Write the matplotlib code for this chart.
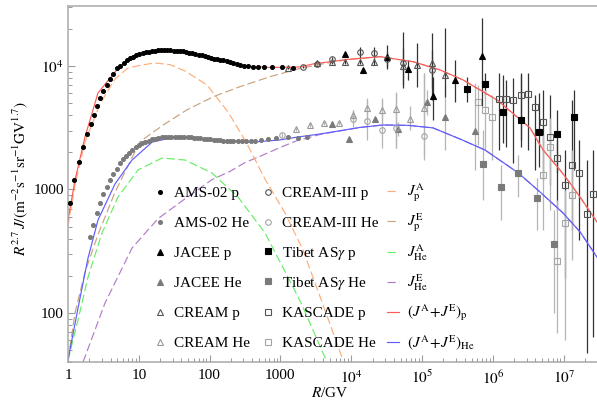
import numpy as np
import matplotlib
matplotlib.use('Agg')
import matplotlib.pyplot as plt
from matplotlib.ticker import FixedLocator, FixedFormatter, LogLocator, NullFormatter
from matplotlib.lines import Line2D
from matplotlib.legend import Legend

plt.rcParams['font.family'] = ['Liberation Serif', 'DejaVu Serif']
plt.rcParams['mathtext.fontset'] = 'stix'

# ---------------- data ----------------
# AMS-02 proton
ams_p_R = [1.067, 1.227, 1.43, 1.613, 1.836, 2.09, 2.33, 2.57, 2.83, 3.15, 3.52, 3.92, 4.36, 4.97,
           5.5, 6.1, 6.8, 7.5, 8.3, 9.2, 10.2, 11.3, 12.5, 13.8, 15.3, 16.9, 18.7, 20.7, 22.9, 25.3,
           28.0, 31.0, 34.3, 38.0, 42.0, 46.5, 51.5, 57, 63, 70, 77, 85, 94, 104, 115, 128, 142, 157,
           174, 193, 214, 240, 270, 310, 354, 409, 481, 589, 762, 1070, 1530]
ams_p_F = [778, 1194, 1660, 2197, 2818, 3390, 4010, 4745, 5535, 6310, 7015, 7850, 8610, 9560,
           10050, 10560, 11150, 11520, 11850, 12170, 12560, 12780, 12930, 13070, 13200, 13320, 13430, 13480, 13460, 13420,
           13380, 13330, 13290, 13240, 13120, 12980, 12850, 12700, 12550, 12370, 12180, 12000, 11830, 11650, 11480, 11320, 11220, 11090,
           10920, 10730, 10520, 10350, 10200, 10060, 9970, 9900, 9840, 9800, 9800, 9800, 9650]

# AMS-02 helium
ams_he_R = [2.05, 2.28, 2.54, 2.83, 3.15, 3.52, 3.92, 4.32, 4.92, 5.42, 5.98, 6.6, 7.3, 8.1, 9.0, 10.0, 11.1,
            12.4, 13.8, 15.3, 17.0, 18.9, 21, 23.3, 25.9, 28.8, 32, 35.6, 39.6, 44, 49, 54, 60, 67, 74, 83,
            92, 102, 114, 127, 141, 157, 175, 195, 217, 250, 290, 330, 380, 440, 525, 660, 880, 1300, 1800, 2400]
ams_he_F = [411, 514, 644, 776, 918, 1047, 1192, 1333, 1463, 1637, 1763, 1880, 1990, 2090, 2190, 2280, 2360,
            2430, 2490, 2540, 2580, 2610, 2640, 2660, 2670, 2680, 2680, 2680, 2670, 2660, 2650, 2640, 2630, 2620, 2600, 2580,
            2560, 2545, 2530, 2515, 2500, 2490, 2480, 2475, 2470, 2470, 2470, 2475, 2480, 2490, 2520, 2560, 2620, 2640, 2620, 2640]

# JACEE
jacee_p_R = [8170, 14800, 32300, 62400, 1.42e5, 2.93e5, 7.11e5]
jacee_p_F = [12400, 9280, 11760, 9370, 5680, 7740, 11990]
jacee_p_lo = [11850, 8900, 9500, 7710, 3650, 5110, 4740]
jacee_p_hi = [13000, 9700, 14800, 11190, 8140, 11190, 24500]

jacee_he_R = [5300, 9310, 21700, 46300, 1.19e5, 2.08e5, 5.6e5]
jacee_he_F = [3400, 2550, 3700, 3070, 5140, 3860, 2990]
jacee_he_lo = [3250, 2440, 3550, 2700, 4010, 2085, 1436]
jacee_he_hi = [3560, 2660, 3860, 3500, 6390, 7020, 7280]

# CREAM
cream_p_R = [1280, 3260, 5300, 8170, 13300, 21200, 54400, 84100, 1.37e5, 2.11e5]
cream_p_F = [9630, 10520, 10720, 10830, 10830, 10830, 10000, 10190, 10520, 8450]
cream_p_lo = [9400, 10200, 10400, 10400, 10300, 10200, 7020, 6760, 5300, 5610]
cream_p_hi = [9900, 10850, 11050, 11300, 11400, 11600, 14000, 15400, 18500, 20300]

cream_he_R = [1660, 2660, 4130, 6790, 10500, 16900, 27000, 43000, 67700, 1.08e5]
cream_he_F = [3070, 3330, 3470, 3470, 4010, 4540, 4400, 4450, 3730, 4540]
cream_he_lo = [2950, 3200, 3330, 3330, 3650, 3650, 3330, 2165, 3030, 1830]
cream_he_hi = [3200, 3470, 3610, 3610, 4400, 5300, 5300, 6040, 4740, 8770]

# CREAM-III
cream3_p_R = [2100, 3260, 5300, 13300, 21200, 31700, 53300, 1.37e5]
cream3_p_F = [9870, 10380, 11330, 12910, 12820, 11330, 10520, 9280]
cream3_p_lo = [9600, 10100, 10900, 11600, 11600, 9815, 6640, 6640]
cream3_p_hi = [10150, 10650, 11800, 14300, 14300, 13000, 18970, 13480]

cream3_he_R = [1040, 10500, 16900, 27000, 43000, 1.07e5]
cream3_he_F = [2760, 3700, 3610, 3050, 3130, 2710]
cream3_he_lo = [2650, 3200, 2510, 2165, 2165, 1730]
cream3_he_hi = [2870, 4400, 5510, 5510, 6200, 8770]

# Tibet AS-gamma
tibet_p_R = [4.32e5, 7.69e5, 1.41e6, 2.48e6, 4.42e6, 8.0e6, 1.40e7]
tibet_p_F = [6470, 7140, 4240, 3650, 2930, 2810, 3880]
tibet_p_lo = [5110, 5820, 2380, 2210, 1520, 1358, 1436]
tibet_p_hi = [8140, 8770, 8450, 8770, 6040, 4400, 6390]

tibet_he_R = [7.19e5, 1.29e6, 2.29e6, 4.14e6, 7.32e6]
tibet_he_F = [1610, 1050, 1365, 851, 361]
tibet_he_lo = [821, 565, 867, 469, 100]
tibet_he_hi = [3030, 1580, 1900, 1236, 681]

# KASCADE
kascade_p_R = [1.22e6, 1.54e6, 1.95e6, 2.48e6, 3.17e6, 3.98e6, 5.07e6, 6.43e6, 8.15e6, 1.05e7, 1.33e7, 1.65e7, 2.12e7, 2.63e7]
kascade_p_F = [5370, 5370, 5300, 5820, 5900, 4620, 3540, 2670, 1790, 1086, 1580, 1358, 632, 919]
kascade_p_lo = [2085, 2210, 1637, 2510, 2085, 1436, 1192, 1086, 681, 191, 469, 389, 47.3, 63.6]
kascade_p_hi = [8770, 7710, 7990, 8450, 8770, 5820, 6390, 5820, 2510, 2085, 5300, 2510, 1730, 2085]

kascade_he_R = [6.12e5, 7.77e5, 9.84e5, 5.17e6, 6.43e6, 8.15e6, 1.05e7, 1.33e7]
kascade_he_F = [5140, 4400, 3880, 1310, 2210, 263, 537, 901]
kascade_he_lo = [2290, 2085, 1730, 469, 681, 68.5, 60.2, 268]
kascade_he_hi = [7020, 6390, 5820, 2760, 3790, 821, 988, 2085]

# model curves
pA_R = [1, 1.256, 1.738, 2.83, 4.61, 7.04, 11.1, 16.9, 27.6, 44.9, 91.9, 182, 326, 606, 1161, 2085, 4266, 7660]
pA_F = [505, 1086, 2420, 4920, 7850, 9630, 10190, 10580, 10250, 9110, 7010, 4240, 2430, 1210, 644, 323, 105, 41.4]

pE_R = [1, 1.256, 1.738, 2.65, 4.61, 10.4, 22.2, 47.5, 113, 269, 713, 1700, 3624, 8730, 25500, 74600,
        1.80e5, 3.79e5, 1.15e6, 3.35e6, 5.12e6, 8.89e6, 1.23e7, 1.82e7, 2.96e7]
pE_F = [41.4, 99.6, 215, 430, 950, 2440, 3330, 4400, 5640, 6800, 8190, 9400, 10300, 11250, 11890, 10830,
        9280, 7710, 5300, 3150, 2090, 1435, 1127, 821, 545]

heA_R = [1, 1.384, 1.917, 3.02, 5.08, 9.75, 21.3, 45, 108, 252, 606, 1459, 2018, 4550]
heA_F = [41.4, 87.5, 195, 444, 867, 1437, 1795, 1730, 1358, 867, 444, 168, 116, 39.9]

heE_R = [1.63, 3.33, 8.02, 18.7, 45, 108, 194, 316, 570, 925, 1700, 2225, 3624, 13300, 28100, 65000, 1.43e5,
         3.44e5, 7.76e5, 2.27e6, 4.64e6, 9.82e6, 1.71e7, 2.96e7]
heE_F = [39.9, 120, 335, 580, 840, 1200, 1400, 1650, 1900, 2150, 2480, 2580, 2785, 3177, 3327, 3300, 3150,
         2560, 2085, 1365, 953, 644, 452, 283]

tot_p_R = [1, 1.256, 1.738, 2.65, 4.61, 6.81, 10.4, 19.9, 38.2, 73.2, 127, 214, 338, 713, 1890, 2890,
           8730, 25500, 74600, 1.80e5, 3.79e5, 1.15e6, 3.35e6, 5.12e6, 8.89e6, 1.23e7, 1.82e7, 2.96e7]
tot_p_F = [565, 1191, 2660, 6040, 8940, 11190, 12630, 13480, 13240, 12280, 11330, 10520, 10000, 9720, 9815, 10380,
           11290, 11900, 10830, 9280, 7710, 5300, 3150, 2090, 1435, 1127, 821, 545]

tot_he_R = [1, 1.384, 1.917, 2.65, 4.61, 8.02, 15.4, 32.5, 60, 119, 397, 950, 1774, 3624, 13300, 28100,
            65000, 1.43e5, 3.44e5, 7.76e5, 2.27e6, 4.64e6, 9.82e6, 1.71e7, 2.96e7]
tot_he_F = [41.4, 109, 278, 565, 1107, 1730, 2415, 2660, 2610, 2512, 2420, 2510, 2660, 2812, 3177, 3327,
            3300, 3150, 2560, 2085, 1365, 953, 644, 452, 283]

xtick_vals = [1, 10, 100, 1000, 1e4, 1e5, 1e6, 1e7]
xtick_labels = ['1', '10', '100', '1000', '$10^{4}$', '$10^{5}$', '$10^{6}$', '$10^{7}$']
ytick_vals = [100, 1000, 1e4]
ytick_labels = ['100', '1000', '$10^{4}$']

# ---------------- figure ----------------
fig = plt.figure(figsize=(5.97, 4.08), dpi=100)
ax = fig.add_axes([68 / 597, 46 / 408, 529 / 597, 356 / 408])
ax.set_xscale('log')
ax.set_yscale('log')
ax.set_xlim(1, 2.96e7)
ax.set_ylim(40, 3.06e4)

dash = (7, 3)
lw = 0.85
c_pA, c_pE, c_hA, c_hE = '#ffad78', '#c9a27e', '#66ee66', '#b17ccb'
c_tp, c_th = '#ff5a5a', '#5d5dff'

ax.plot(pE_R, pE_F, color=c_pE, lw=lw, dashes=dash, zorder=2)
ax.plot(heE_R, heE_F, color=c_hE, lw=lw, dashes=dash, zorder=2)
ax.plot(pA_R, pA_F, color=c_pA, lw=lw, dashes=dash, zorder=2)
ax.plot(heA_R, heA_F, color=c_hA, lw=lw, dashes=dash, zorder=2)
ax.plot(tot_p_R, tot_p_F, color=c_tp, lw=lw, zorder=2.5)
ax.plot(tot_he_R, tot_he_F, color=c_th, lw=lw, zorder=2.5)

handles1, handles2 = [], []


def pts(R, F, lo, hi, marker, mfc, mec, ecol, ms, label, lst):
    R = np.array(R, float)
    F = np.array(F, float)
    if lo is not None:
        lo = np.array(lo, float)
        hi = np.array(hi, float)
        ax.errorbar(R, F, yerr=[F - lo, hi - F], fmt='none', ecolor=ecol, elinewidth=0.9,
                    capsize=0, zorder=1.5)
    ax.plot(R, F, ls='none', marker=marker, ms=ms, mfc=mfc, mec=mec, mew=0.8, zorder=3)
    lst.append(Line2D([], [], ls='none', marker=marker, ms=ms, mfc=mfc, mec=mec, mew=0.8, label=label))


dark, light = '#333333', '#b5b5b5'
pts(ams_p_R, ams_p_F, None, None, 'o', 'black', 'black', dark, 2.8, 'AMS-02 p', handles1)
pts(ams_he_R, ams_he_F, None, None, 'o', '#7a7a7a', '#7a7a7a', light, 2.8, 'AMS-02 He', handles1)
pts(jacee_p_R, jacee_p_F, jacee_p_lo, jacee_p_hi, '^', 'black', 'black', dark, 5, 'JACEE p', handles1)
pts(jacee_he_R, jacee_he_F, jacee_he_lo, jacee_he_hi, '^', '#7a7a7a', '#7a7a7a', light, 5, 'JACEE He', handles1)
pts(cream_p_R, cream_p_F, cream_p_lo, cream_p_hi, '^', 'none', '#555555', dark, 5, 'CREAM p', handles1)
pts(cream_he_R, cream_he_F, cream_he_lo, cream_he_hi, '^', 'none', '#9a9a9a', light, 5, 'CREAM He', handles1)
pts(cream3_p_R, cream3_p_F, cream3_p_lo, cream3_p_hi, 'o', 'none', '#555555', dark, 4, 'CREAM-III p', handles2)
pts(cream3_he_R, cream3_he_F, cream3_he_lo, cream3_he_hi, 'o', 'none', '#a5a5a5', light, 4, 'CREAM-III He', handles2)
pts(tibet_p_R, tibet_p_F, tibet_p_lo, tibet_p_hi, 's', 'black', 'black', dark, 4.2, r'Tibet AS$\gamma$ p', handles2)
pts(tibet_he_R, tibet_he_F, tibet_he_lo, tibet_he_hi, 's', '#7a7a7a', '#7a7a7a', light, 4.2, r'Tibet AS$\gamma$ He', handles2)
pts(kascade_p_R, kascade_p_F, kascade_p_lo, kascade_p_hi, 's', 'none', '#555555', dark, 4.2, 'KASCADE p', handles2)
pts(kascade_he_R, kascade_he_F, kascade_he_lo, kascade_he_hi, 's', 'none', '#a5a5a5', light, 4.2, 'KASCADE He', handles2)

handles3 = [
    Line2D([], [], color=c_pA, lw=lw, dashes=dash, label=r'$J_{\mathrm{p}}^{\mathrm{A}}$'),
    Line2D([], [], color=c_pE, lw=lw, dashes=dash, label=r'$J_{\mathrm{p}}^{\mathrm{E}}$'),
    Line2D([], [], color=c_hA, lw=lw, dashes=dash, label=r'$J_{\mathrm{He}}^{\mathrm{A}}$'),
    Line2D([], [], color=c_hE, lw=lw, dashes=dash, label=r'$J_{\mathrm{He}}^{\mathrm{E}}$'),
    Line2D([], [], color=c_tp, lw=lw, label=r'$(J^{\mathrm{A}}\!+\!J^{\mathrm{E}})_{\mathrm{p}}$'),
    Line2D([], [], color=c_th, lw=lw, label=r'$(J^{\mathrm{A}}\!+\!J^{\mathrm{E}})_{\mathrm{He}}$'),
]

# legend: one entry per box, laid out in three columns of six rows
leg_kw = dict(frameon=False, fontsize=11, handlelength=0.8, handletextpad=0.5,
              borderpad=0, borderaxespad=0, loc='center left')
row_y = [193, 223, 253, 283, 313, 343]
for hs, x0 in ((handles1, 154), (handles2, 262), (handles3, 387)):
    for h, yy in zip(hs, row_y):
        lg = Legend(ax, [h], [h.get_label()],
                    bbox_to_anchor=((x0 - 68) / 529, (362 - yy) / 356),
                    bbox_transform=ax.transAxes, **leg_kw)
        ax.add_artist(lg)

# axes styling
ax.xaxis.set_major_locator(FixedLocator(xtick_vals))
ax.xaxis.set_major_formatter(FixedFormatter(xtick_labels))
ax.yaxis.set_major_locator(FixedLocator(ytick_vals))
ax.yaxis.set_major_formatter(FixedFormatter(ytick_labels))
ax.xaxis.set_minor_locator(LogLocator(base=10, subs=np.arange(2, 10), numticks=30))
ax.yaxis.set_minor_locator(LogLocator(base=10, subs=np.arange(2, 10), numticks=30))
ax.xaxis.set_minor_formatter(NullFormatter())
ax.yaxis.set_minor_formatter(NullFormatter())
ax.tick_params(which='both', direction='in', color='#9a9a9a', labelsize=11, top=False, right=False)
ax.tick_params(which='major', length=5, width=0.8)
ax.tick_params(which='minor', length=3, width=0.7)
ax.tick_params(axis='x', pad=5)
ax.tick_params(axis='y', pad=3)
for s in ('left', 'bottom', 'top'):
    ax.spines[s].set_color('#aaaaaa')
    ax.spines[s].set_linewidth(1.1)
ax.spines['right'].set_visible(False)

ax.set_ylabel(r'$R^{2.7}\,J/(\mathrm{m}^{-2}\mathrm{s}^{-1}\mathrm{sr}^{-1}\mathrm{GV}^{1.7})$', fontsize=11)
ax.yaxis.set_label_coords(-0.072, 0.515)
ax.set_xlabel(r'$R$/GV', fontsize=11)
ax.xaxis.set_label_coords(0.495, -0.068)

fig.savefig('out.png', dpi=100)
